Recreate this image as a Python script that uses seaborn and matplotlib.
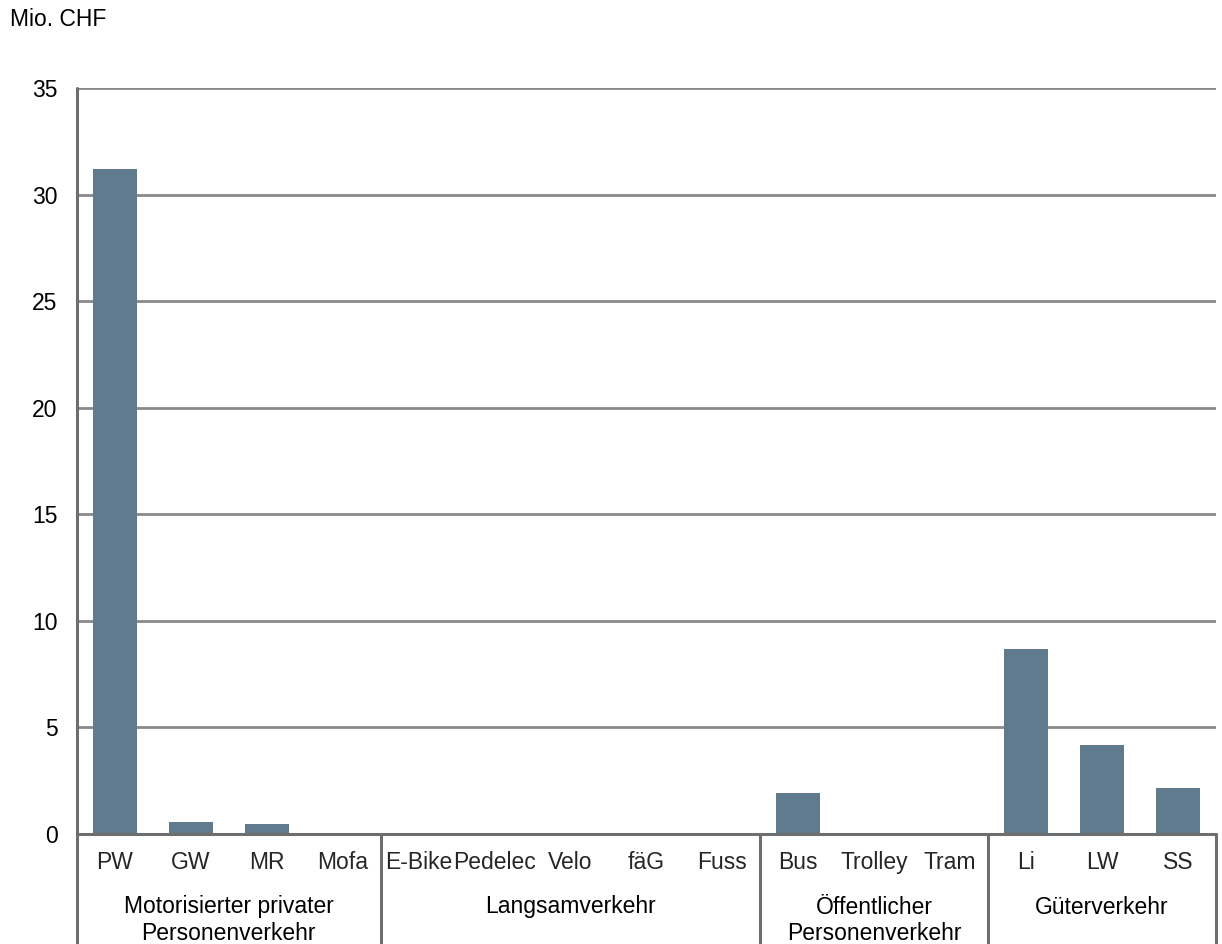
import matplotlib
matplotlib.use("Agg")
import matplotlib.pyplot as plt
import matplotlib.transforms as mtransforms
import seaborn as sns
import pandas as pd

# Kosten nach Verkehrsmittel (Mio. CHF)
categories = ["PW", "GW", "MR", "Mofa",
              "E-Bike", "Pedelec", "Velo", "fäG", "Fuss",
              "Bus", "Trolley", "Tram",
              "Li", "LW", "SS"]
values = [31.2, 0.56, 0.45, 0.0,
          0.0, 0.0, 0.0, 0.0, 0.0,
          1.91, 0.0, 0.0,
          8.68, 4.18, 2.14]
group_names = ["Motorisierter privater\nPersonenverkehr",
               "Langsamverkehr",
               "Öffentlicher\nPersonenverkehr",
               "Güterverkehr"]
group_sizes = [4, 5, 3, 3]
y_ticks = [0, 5, 10, 15, 20, 25, 30, 35]

sns.set_style("white")
plt.rcParams["font.family"] = ["Liberation Sans", "DejaVu Sans"]

FS = 16.5
BAR = "#607b8d"
GRID = "#8a8a8a"
AXIS = "#6e6e6e"

fig = plt.figure(figsize=(12.22, 9.44), dpi=100)
ax = fig.add_axes([77 / 1222, 1 - 834 / 944, (1216 - 77) / 1222, (834 - 88) / 944])

df = pd.DataFrame({"Kategorie": categories, "Wert": values})
sns.barplot(data=df, x="Kategorie", y="Wert", color=BAR, saturation=1,
            width=0.58, ax=ax, edgecolor="none", zorder=3)

ax.set_xlim(-0.5, len(categories) - 0.5)
ax.set_ylim(0, 35)
ax.set_yticks(y_ticks)
ax.set_yticklabels([str(t) for t in y_ticks], fontsize=FS, color="#000000")
ax.set_xlabel("")
ax.set_ylabel("")
ax.tick_params(axis="y", length=0, pad=14)
ax.tick_params(axis="x", length=0, pad=12, labelsize=FS)

for t in y_ticks[1:]:
    ax.axhline(t, color=GRID, lw=2, zorder=1)

for side in ["top", "right", "bottom", "left"]:
    ax.spines[side].set_visible(False)

trans = mtransforms.blended_transform_factory(ax.transData, ax.transAxes)
y_bottom = -0.2

# Nulllinie und Gruppenrahmen unterhalb der Achse
ax.plot([-0.5, len(categories) - 0.5], [0, 0], transform=trans,
        color=AXIS, lw=2.2, clip_on=False, zorder=4)
ax.plot([-0.5, -0.5], [1, y_bottom], transform=trans,
        color=AXIS, lw=2.2, clip_on=False, zorder=4)

start = 0
bounds = []
for size in group_sizes:
    bounds.append((start, start + size))
    start += size
for (a, b) in bounds:
    ax.plot([b - 0.5, b - 0.5], [0, y_bottom], transform=trans,
            color=AXIS, lw=2.2, clip_on=False, zorder=4)

line_y = [(834 - 907) / 746, (834 - 934) / 746]
for name, (a, b) in zip(group_names, bounds):
    xc = (a + b - 1) / 2
    for i, line in enumerate(name.split("\n")):
        ax.text(xc, line_y[i], line, transform=trans, ha="center", va="center",
                fontsize=FS, color="#000000")

fig.text(10 / 1222, 1 - 20 / 944, "Mio. CHF", ha="left", va="center",
         fontsize=FS, color="#000000")

fig.savefig("out.png", dpi=100, facecolor="white")
